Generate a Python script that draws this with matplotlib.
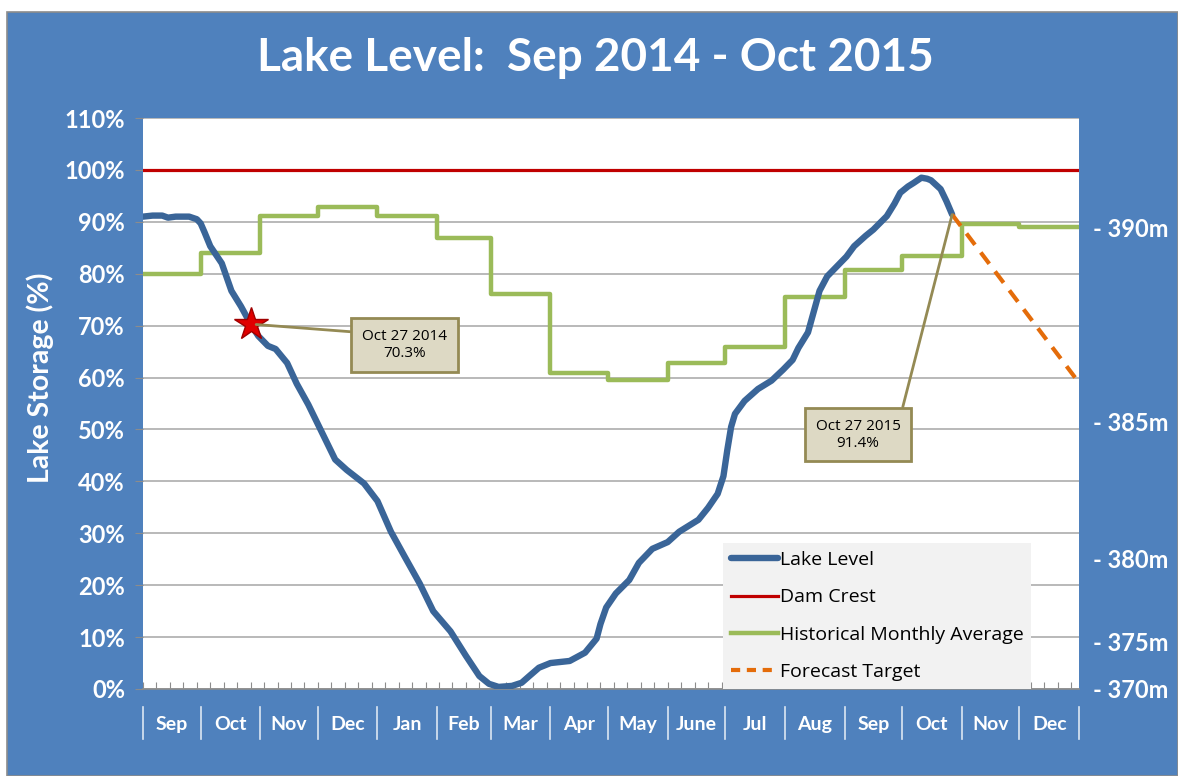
import numpy as np
import pandas as pd
import matplotlib
matplotlib.use("Agg")
import matplotlib.pyplot as plt
from matplotlib.patches import Rectangle
from matplotlib.lines import Line2D
import matplotlib.transforms as mtransforms

plt.rcParams['font.family'] = ['Lato', 'DejaVu Sans']

# ---- data ----
start = pd.Timestamp('2014-09-01')
end = pd.Timestamp('2016-01-01')

# lake level, days since 1 Sep 2014 and % storage
lake_day = [0, 5, 10, 13, 17, 24, 28, 30, 32, 35, 41, 46, 51, 56, 60, 65, 69,
            75, 80, 86, 93, 100, 106, 115, 122, 129, 136, 144, 151, 160, 168,
            175, 180, 185, 192, 197, 201, 206, 212, 217, 222, 230, 236, 238,
            241, 246, 253, 258, 265, 273, 279, 289, 294, 299, 302, 304, 306,
            308, 313, 320, 327, 333, 338, 341, 346, 349, 352, 356, 361, 366,
            370, 376, 380, 387, 391, 394, 398, 401, 405, 408, 410, 415, 418, 421]
lake_pct = [91.0, 91.2, 91.2, 90.8, 91.0, 91.0, 90.5, 89.7, 88.0, 85.3, 82.0,
            76.7, 73.7, 70.3, 68.0, 66.1, 65.5, 62.8, 58.8, 54.8, 49.5, 44.2,
            42.2, 39.6, 36.2, 30.3, 25.6, 20.3, 15.0, 11.1, 6.4, 2.5, 1.0, 0.4,
            0.6, 1.2, 2.5, 4.1, 5.0, 5.2, 5.4, 7.0, 9.7, 12.5, 15.7, 18.4, 21.0,
            24.3, 27.0, 28.3, 30.3, 32.6, 34.9, 37.6, 41.0, 46.0, 50.5, 53.0,
            55.5, 57.8, 59.4, 61.5, 63.4, 65.7, 68.7, 72.7, 76.7, 79.5, 81.4,
            83.3, 85.3, 87.3, 88.5, 91.1, 93.5, 95.6, 96.8, 97.5, 98.5, 98.3,
            98.0, 96.3, 94.0, 91.4]

# historical monthly average, Sep 2014 .. Dec 2015
hist_avg = [80.0, 84.0, 91.1, 92.9, 91.1, 86.9, 76.0, 60.8, 59.6, 62.8, 65.9,
            75.6, 80.8, 83.5, 89.5, 89.0]

dam_crest = 100.0

forecast_day = [421, 487]
forecast_pct = [91.4, 59.0]

month_labels = ['Sep', 'Oct', 'Nov', 'Dec', 'Jan', 'Feb', 'Mar', 'Apr', 'May',
                'June', 'Jul', 'Aug', 'Sep', 'Oct', 'Nov', 'Dec']

# right axis: elevation labels and their storage %
elev_pct = [89.0, 51.5, 25.1, 9.1, 0.0]
elev_labels = ['- 390m', '- 385m', '- 380m', '- 375m', '- 370m']

note_days = [56, 421]
note_pct = [70.3, 91.4]
note_text = ['Oct 27 2014\n70.3%', 'Oct 27 2015\n91.4%']

# ---- derived ----
month_starts = pd.date_range(start, end, freq='MS')
month_edges = np.array([(d - start).days for d in month_starts])
month_mid = (month_edges[:-1] + month_edges[1:]) / 2
total_days = (end - start).days

BG = '#4F81BD'
W, H = 1178, 776
fig = plt.figure(figsize=(W / 100, H / 100), dpi=100, facecolor='white')
fig.patches.append(Rectangle((7 / W, 0), 1 - 7 / W, 1 - 12 / H,
                             transform=fig.transFigure, facecolor=BG,
                             edgecolor='#8C8C8C', linewidth=1.2, zorder=-10))

ax = fig.add_axes([143 / W, 1 - 689 / H, (1079 - 143) / W, (689 - 118) / H])
ax.set_facecolor('white')
ax.set_xlim(0, total_days)
ax.set_ylim(0, 110)

ax.set_yticks(np.arange(0, 111, 10))
ax.set_yticklabels([f'{v}%' for v in range(0, 111, 10)])
ax.yaxis.grid(True, color='#A6A6A6', linewidth=1.1)
ax.set_axisbelow(True)
ax.tick_params(axis='y', direction='out', length=6, color='#8C8C8C',
               labelcolor='white', labelsize=17, pad=7)
for lab in ax.get_yticklabels():
    lab.set_fontweight('bold')

ax.set_xticks(np.arange(0, total_days + 1, 7))
ax.set_xticklabels([])
ax.tick_params(axis='x', direction='in', length=5, color='#8C8C8C')
for s in ['top', 'left', 'right']:
    ax.spines[s].set_visible(False)
ax.spines['bottom'].set_color('#8C8C8C')
ax.spines['bottom'].set_linewidth(1.2)

# series
ax.axhline(dam_crest, color='#C00000', linewidth=2.3, zorder=3)
ax.step(month_edges, hist_avg + [hist_avg[-1]], where='post',
        color='#9BBB59', linewidth=3.2, zorder=3)
ax.plot(lake_day, lake_pct, color='#3A6598', linewidth=4.6,
        solid_capstyle='round', solid_joinstyle='round', zorder=4)
ax.plot(forecast_day, forecast_pct, color='#E46C0A', linewidth=3.0,
        dashes=(3.4, 2.3), zorder=4)
ax.plot(note_days[0], note_pct[0], marker='*', markersize=25,
        color='#E00000', markeredgecolor='#A00000', zorder=6)

# annotations
ax.annotate(note_text[0], xy=(note_days[0], note_pct[0]), xytext=(136, 66.3),
            ha='center', va='center', fontsize=11, family='Open Sans',
            bbox=dict(boxstyle='square,pad=0.7', facecolor='#DDD9C4',
                      edgecolor='#948A54', linewidth=2),
            arrowprops=dict(arrowstyle='-', color='#948A54', linewidth=2,
                            relpos=(0, 0.88), shrinkA=0, shrinkB=4),
            zorder=7)
ax.annotate(note_text[1], xy=(note_days[1], note_pct[1]), xytext=(372, 49.0),
            ha='center', va='center', fontsize=11, family='Open Sans',
            bbox=dict(boxstyle='square,pad=0.7', facecolor='#DDD9C4',
                      edgecolor='#948A54', linewidth=2),
            arrowprops=dict(arrowstyle='-', color='#948A54', linewidth=2,
                            relpos=(0.99, 0.97), shrinkA=0, shrinkB=0),
            zorder=7)

# month labels and separators under the axis
trans = mtransforms.blended_transform_factory(ax.transData, ax.transAxes)
for xm, lab in zip(month_mid, month_labels):
    ax.text(xm, -0.063, lab, transform=trans, ha='center', va='center',
            color='white', fontsize=14, fontweight='bold')
for xe in month_edges:
    ax.plot([xe, xe], [-0.031, -0.087], transform=trans, color='#DCE6F2',
            linewidth=1.2, clip_on=False)

# right axis with elevations
ax2 = ax.twinx()
ax2.set_ylim(ax.get_ylim())
ax2.set_yticks(elev_pct)
ax2.set_yticklabels(elev_labels)
ax2.tick_params(axis='y', length=0, pad=10, labelcolor='white', labelsize=17)
for lab in ax2.get_yticklabels():
    lab.set_fontweight('bold')
for s in ax2.spines.values():
    s.set_visible(False)

# legend
handles = [Line2D([], [], color='#3A6598', linewidth=4.6, solid_capstyle='round'),
           Line2D([], [], color='#C00000', linewidth=2.3),
           Line2D([], [], color='#9BBB59', linewidth=3.2),
           Line2D([], [], color='#E46C0A', linewidth=3.0, dashes=(2.2, 1.6))]
labels = ['Lake Level', 'Dam Crest', 'Historical Monthly Average', 'Forecast Target']
leg = ax2.legend(handles, labels, loc='lower left', bbox_to_anchor=(0.62, 0.0),
                 frameon=True, fancybox=False, borderaxespad=0,
                 handlelength=2.4, handletextpad=0.1, labelspacing=1.0,
                 borderpad=0.4, prop={'family': 'Open Sans', 'size': 14})
leg.get_frame().set_facecolor('#F2F2F2')
leg.get_frame().set_edgecolor('none')
leg.get_frame().set_alpha(1)

fig.text(0.505, 1 - 58 / H, 'Lake Level:  Sep 2014 - Oct 2015', ha='center',
         va='center', color='white', fontsize=33, fontweight='bold')
fig.text(40 / W, 1 - 378 / H, 'Lake Storage (%)', rotation=90, ha='center',
         va='center', color='white', fontsize=20.5, fontweight='bold')

fig.savefig('out.png', dpi=100, facecolor=fig.get_facecolor())
